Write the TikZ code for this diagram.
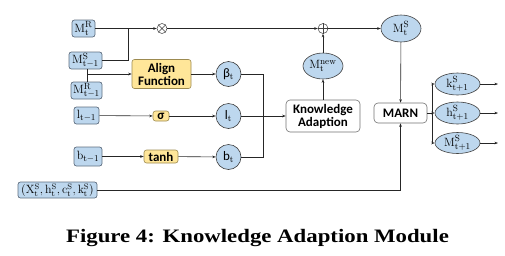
\documentclass[tikz,border=0pt]{standalone}
\usepackage[no-math]{fontspec}
\setmainfont{Carlito}
\newfontfamily\capfont[FakeStretch=1.2]{Liberation Serif}
\usetikzlibrary{arrows.meta,shapes.geometric}
\definecolor{bfill}{HTML}{BDD7EE}
\definecolor{bdraw}{HTML}{5F6F80}
\definecolor{yfill}{HTML}{FFE699}
\definecolor{ydraw}{HTML}{9C8A50}
\newcommand\mymv[3]{$\mathrm{#1}^{\mathrm{#2}}_{\mathrm{#3}}$}
\begin{document}
\begin{tikzpicture}[x=1pt,y=-1pt,
  inbox/.style={draw=bdraw, fill=bfill, rounded corners=2.5pt, line width=0.7pt, inner sep=0pt, minimum height=17pt, font=\fontsize{12.5}{13}\selectfont},
  circ/.style={circle, draw=black!75, fill=bfill, line width=0.6pt, minimum size=25pt, inner sep=0pt, font=\fontsize{13}{14}\selectfont},
  ell/.style={ellipse, draw=black!75, fill=bfill, line width=0.6pt, inner sep=0pt, font=\fontsize{12.5}{13}\selectfont},
  ybox/.style={draw=ydraw, fill=yfill, rounded corners=2.5pt, line width=0.6pt, inner sep=0pt, font=\bfseries\fontsize{13}{13.5}\selectfont},
  wbox/.style={draw=black!55, fill=white, rounded corners=4pt, line width=0.6pt, inner sep=0pt, font=\bfseries\fontsize{13}{13.5}\selectfont},
  op/.style={circle, draw=black!75, fill=white, line width=0.5pt, minimum size=10pt, inner sep=0pt},
  wire/.style={draw=black!85, line width=0.6pt},
  conn/.style={wire, -{Stealth[length=3.5pt,width=2.6pt]}}]
\useasboundingbox (0,0) rectangle (505,255);
% inputs
\node[inbox, minimum width=23pt] (mtr) at (83.5,28.5) {\mymv{M}{R}{t}};
\node[inbox, minimum width=33pt] (ms1) at (85.5,60.5) {\mymv{M}{S}{t-1}};
\node[inbox, minimum width=31pt] (mr1) at (86.5,90.5) {\mymv{M}{R}{t-1}};
\node[inbox, minimum width=25pt] (lt1) at (86.5,115.5) {$\mathrm{l}_{\mathrm{t-1}}$};
\node[inbox, minimum width=28pt, minimum height=19pt] (bt1) at (88,156.5) {$\mathrm{b}_{\mathrm{t-1}}$};
\node[inbox, minimum width=79pt, minimum height=16pt, font=\fontsize{11.5}{12}\selectfont] (tup) at (57.5,190) {$(\mathrm{X}^{\mathrm{S}}_{\mathrm{t}},\mathrm{h}^{\mathrm{S}}_{\mathrm{t}},\mathrm{c}^{\mathrm{S}}_{\mathrm{t}},\mathrm{k}^{\mathrm{S}}_{\mathrm{t}})$};
% operators
\node[ybox, minimum width=59pt, minimum height=29pt, align=center] (align) at (161.5,74) {Align\\[-0.5pt]Function};
\node[ybox, minimum width=16pt, minimum height=10pt] (sig) at (161,116) {σ};
\node[ybox, minimum width=34pt, minimum height=13pt] (tanh) at (161,156.5) {tanh};
\node[circ] (beta) at (228.5,74) {$\mbox{β}_{\mathrm{t}}$};
\node[circ] (lt) at (228.5,116) {$\mbox{l}_{\mathrm{t}}$};
\node[circ] (bt) at (228.5,157) {$\mbox{b}_{\mathrm{t}}$};
\node[op] (otimes) at (162,28.5) {};
\draw[black!75, line width=0.5pt] (otimes.north west) -- (otimes.south east) (otimes.north east) -- (otimes.south west);
\node[op] (oplus) at (323,28.5) {};
\draw[black!75, line width=0.5pt] (oplus.north) -- (oplus.south) (oplus.west) -- (oplus.east);
\node[wbox, minimum width=74pt, minimum height=32pt, align=center] (ka) at (323,116) {Knowledge\\[-0.5pt]Adaption};
\node[ell, minimum width=40pt, minimum height=26pt] (mnew) at (323,66) {\mymv{M}{new}{t}};
\node[ell, minimum width=40pt, minimum height=27pt] (mst) at (401,28.5) {\mymv{M}{S}{t}};
\node[wbox, minimum width=53pt, minimum height=20pt] (marn) at (400.5,113) {MARN};
\node[ell, minimum width=45pt, minimum height=22pt] (k1) at (457.5,84) {\mymv{k}{S}{t+1}};
\node[ell, minimum width=45pt, minimum height=22pt] (h1) at (457.5,113) {\mymv{h}{S}{t+1}};
\node[ell, minimum width=45pt, minimum height=21pt] (m1) at (457.5,143) {\mymv{M}{S}{t+1}};
% coordinates
\coordinate (j1) at (128,28.5);
\coordinate (j2) at (87,74);
\coordinate (jr) at (263,74);
\coordinate (jk) at (432,84);
\coordinate (jh) at (432,113);
\coordinate (jm) at (432,143);
\coordinate (ko) at (498,84);
\coordinate (ho) at (498,113);
\coordinate (mo) at (498,143);
% connectors
\draw[conn] (mtr) -- (otimes);
\draw[wire] (ms1.east |- 0,60) -| (j1);
\draw[wire] (ms1.south -| j2) -- (mr1.north -| j2);
\draw[conn] (j2) -- (align);
\draw[conn] (align) -- (beta);
\draw[wire] (beta) -- (jr);
\draw[wire] (bt) -| (jr);
\draw[conn] (lt1) -- (sig);
\draw[conn] (sig) -- (lt);
\draw[conn] (lt) -- (ka);
\draw[conn] (bt1) -- (tanh);
\draw[conn] (tanh) -- (bt);
\draw[conn] (otimes) -- (oplus);
\draw[conn] (oplus) -- (mst);
\draw[conn] (mnew) -- (oplus);
\draw[conn] (ka) -- (mnew);
\draw[conn] (mst) -- (marn);
\draw[conn] (tup) -| (marn);
\draw[wire] (marn) -- (jh);
\draw[wire] (jk) -- (jm);
\draw[conn] (jk) -- (k1);
\draw[conn] (jh) -- (h1);
\draw[conn] (jm) -- (m1);
\draw[conn] (k1) -- (ko);
\draw[conn] (h1) -- (ho);
\draw[conn] (m1) -- (mo);
% caption
\node[font=\capfont\bfseries\fontsize{19}{21}\selectfont] (cap) at (257.5,237.5) {Figure 4: Knowledge Adaption Module};
\end{tikzpicture}
\end{document}
